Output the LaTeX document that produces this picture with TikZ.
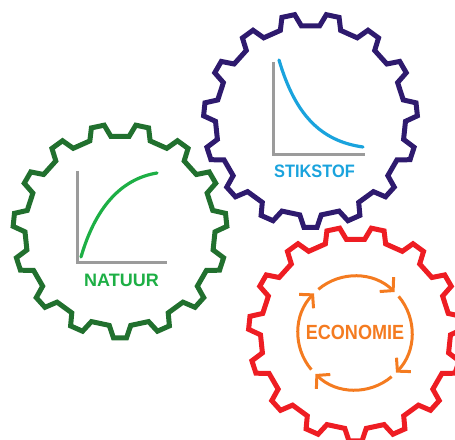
\documentclass[tikz,border=0pt]{standalone}
\usepackage{fontspec}
\setmainfont{Liberation Sans}
\usetikzlibrary{arrows.meta}
\definecolor{navy}{HTML}{2E1A6E}
\definecolor{dkgreen}{HTML}{21702E}
\definecolor{gearred}{HTML}{EE1D23}
\definecolor{cyanline}{HTML}{1AA3DD}
\definecolor{ltgreen}{HTML}{1DAF45}
\definecolor{axisgray}{HTML}{9B9B9B}
\definecolor{econorange}{HTML}{F47B20}
\tikzset{
  gearline/.style={line width=5pt, line join=miter},
  axisline/.style={draw=axisgray, line width=3pt},
  curveline/.style={line width=3.2pt, line cap=round},
  label/.style={font=\bfseries\fontsize{18}{18}\selectfont, inner sep=0pt},
  cyclearrow/.style={draw=econorange, line width=3pt, -{Straight Barb[length=9pt,width=20pt]}}
}
\newcommand\gearoutline[2]{%
  \begin{scope}[shift={(#1)}]
    \draw[gearline,#2] (84.5:95)
      \foreach \k in {0,...,14}{ -- ({84.5-24*\k}:95) -- ({81.5-24*\k}:107) -- ({74.5-24*\k}:107) -- ({71.5-24*\k}:95) } -- cycle;
  \end{scope}}
\begin{document}
\begin{tikzpicture}[x=1pt,y=1pt]
\useasboundingbox (0,0) rectangle (455,439);
\clip (0,0) rectangle (455,439);
\coordinate (bc) at (310.5,318.5);
\coordinate (gc) at (120,208);
\coordinate (rc) at (355.5,105);
\gearoutline{bc}{navy}
\gearoutline{gc}{dkgreen}
\gearoutline{rc}{gearred}
% Stikstof
\coordinate (bo) at (273,284);
\coordinate (by) at (273,377);
\coordinate (bx) at (365,284);
\draw[axisline] (by) -- (bo) -- (bx);
\coordinate (bs) at (279,379);
\coordinate (be) at (363,292);
\draw[curveline,cyanline] (bs) .. controls (295,325) and (320,298) .. (be);
\node[label,text=cyanline] (stik) at (314.5,267.5) {\scalebox{0.91}[1]{STIKSTOF}};
% Natuur
\coordinate (go) at (77,176);
\coordinate (gy) at (77,268);
\coordinate (gx) at (167,176);
\draw[axisline] (gy) -- (go) -- (gx);
\coordinate (gs) at (81,182);
\coordinate (ge) at (157,266);
\draw[curveline,ltgreen] (gs) .. controls (95,230) and (120,260) .. (ge);
\node[label,text=ltgreen] (natuur) at (121.5,159) {NATUUR};
% Economie
\coordinate (ec) at (355,106);
\draw[cyclearrow] ([shift={(130:57)}]ec) arc[start angle=130, end angle=46, radius=57];
\draw[cyclearrow] ([shift={(40:57)}]ec) arc[start angle=40, end angle=-44, radius=57];
\draw[cyclearrow] ([shift={(-50:57)}]ec) arc[start angle=-50, end angle=-134, radius=57];
\draw[cyclearrow] ([shift={(-140:57)}]ec) arc[start angle=-140, end angle=-224, radius=57];
\node[label,text=econorange,font=\bfseries\fontsize{20.5}{20.5}\selectfont] (econ) at (355,107) {\scalebox{0.88}[1]{ECONOMIE}};
\end{tikzpicture}
\end{document}
